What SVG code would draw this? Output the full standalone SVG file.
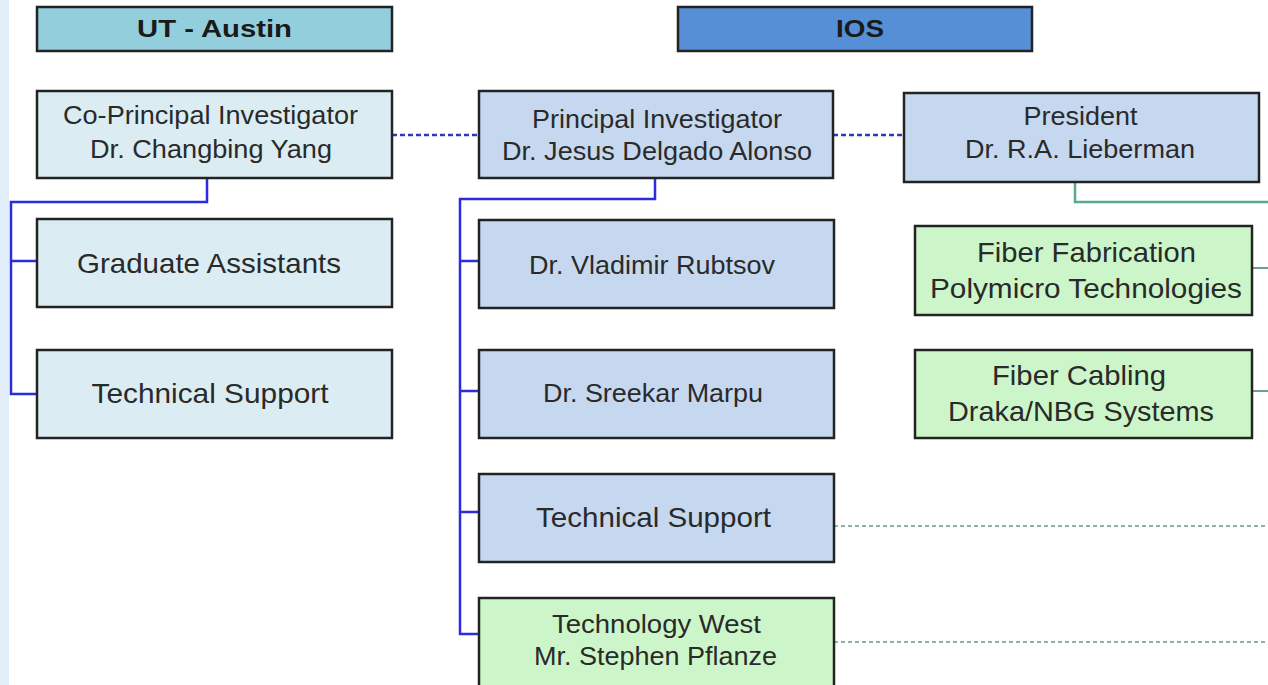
<svg xmlns="http://www.w3.org/2000/svg" width="1268" height="685" viewBox="0 0 1268 685">
<style>
.box{stroke:#232323;stroke-width:2.5}
.ut{fill:#dbedf3}
.ios{fill:#c6d8ef}
.grn{fill:#ccf6c9}
.t{font-family:"Liberation Sans",Arial,sans-serif;font-size:26px;fill:#2a2a2a;text-anchor:middle}
.s{font-size:28px}
.h{font-family:"Liberation Sans",Arial,sans-serif;font-size:24px;font-weight:bold;fill:#1a1a1a;text-anchor:middle}
.blue{fill:none;stroke:#2b2be0;stroke-width:2.5}
.bdash{fill:none;stroke:#3434b8;stroke-width:2.5;stroke-dasharray:5 3}
.green{fill:none;stroke:#5aaa8e;stroke-width:2.5}
.gside{fill:none;stroke:#6f9d8e;stroke-width:2}
.gdash{fill:none;stroke:#5f9c8a;stroke-width:1.6;stroke-dasharray:4 3}
</style>
<rect x="0" y="0" width="1268" height="685" fill="#ffffff"/>
<rect x="0" y="0" width="9" height="685" fill="#e3eefb"/>

<g id="connectors">
<path class="bdash" d="M392 135H480"/>
<path class="bdash" d="M833 135H904"/>
<path class="blue" d="M207 178V202H11V394H37M11 261H37"/>
<path class="blue" d="M655 178V199H460V634H480M460 261H480M460 391H480M460 512H480"/>
<path class="green" d="M1075 182V202H1268"/>
<path class="gside" d="M1252 268H1268"/>
<path class="gside" d="M1252 391H1268"/>
<path class="gdash" d="M834 526H1268"/>
<path class="gdash" d="M834 642H1268"/>
</g>

<g id="ut-austin">
<rect class="box" x="37" y="7" width="355" height="44" fill="#93cedc"/>
<text class="h" x="214.5" y="37" textLength="155" lengthAdjust="spacingAndGlyphs">UT - Austin</text>
</g>
<g id="ios">
<rect class="box" x="678" y="7" width="354" height="44" fill="#568fd5"/>
<text class="h" x="860" y="37" textLength="48" lengthAdjust="spacingAndGlyphs">IOS</text>
</g>

<g id="co-pi">
<rect class="box ut" x="37" y="91" width="355" height="87"/>
<text class="t" x="210.5" y="124" textLength="295" lengthAdjust="spacingAndGlyphs">Co-Principal Investigator</text>
<text class="t" x="211" y="158" textLength="242" lengthAdjust="spacingAndGlyphs">Dr. Changbing Yang</text>
</g>
<g id="grad-assistants">
<rect class="box ut" x="37" y="219" width="355" height="88"/>
<text class="t s" x="209" y="273" textLength="264" lengthAdjust="spacingAndGlyphs">Graduate Assistants</text>
</g>
<g id="tech-support-ut">
<rect class="box ut" x="37" y="350" width="355" height="88"/>
<text class="t s" x="210" y="403" textLength="237" lengthAdjust="spacingAndGlyphs">Technical Support</text>
</g>

<g id="pi">
<rect class="box ios" x="479" y="91" width="354" height="87"/>
<text class="t" x="657" y="128" textLength="250" lengthAdjust="spacingAndGlyphs">Principal Investigator</text>
<text class="t" x="657" y="160" textLength="310" lengthAdjust="spacingAndGlyphs">Dr. Jesus Delgado Alonso</text>
</g>
<g id="rubtsov">
<rect class="box ios" x="479" y="220" width="355" height="88"/>
<text class="t" x="652" y="274" textLength="246" lengthAdjust="spacingAndGlyphs">Dr. Vladimir Rubtsov</text>
</g>
<g id="marpu">
<rect class="box ios" x="479" y="350" width="355" height="88"/>
<text class="t" x="653" y="402" textLength="220" lengthAdjust="spacingAndGlyphs">Dr. Sreekar Marpu</text>
</g>
<g id="tech-support-ios">
<rect class="box ios" x="479" y="474" width="355" height="88"/>
<text class="t s" x="653.5" y="527" textLength="235" lengthAdjust="spacingAndGlyphs">Technical Support</text>
</g>
<g id="technology-west">
<rect class="box grn" x="479" y="598" width="355" height="95"/>
<text class="t" x="656.5" y="633" textLength="209" lengthAdjust="spacingAndGlyphs">Technology West</text>
<text class="t" x="655.5" y="665" textLength="243" lengthAdjust="spacingAndGlyphs">Mr. Stephen Pflanze</text>
</g>

<g id="president">
<rect class="box ios" x="904" y="93" width="355" height="89"/>
<text class="t" x="1080.5" y="125" textLength="114" lengthAdjust="spacingAndGlyphs">President</text>
<text class="t" x="1080" y="158" textLength="230" lengthAdjust="spacingAndGlyphs">Dr. R.A. Lieberman</text>
</g>
<g id="fiber-fabrication">
<rect class="box grn" x="915" y="226" width="337" height="89"/>
<text class="t s" x="1086.5" y="262" textLength="219" lengthAdjust="spacingAndGlyphs">Fiber Fabrication</text>
<text class="t s" x="1086" y="298" textLength="312" lengthAdjust="spacingAndGlyphs">Polymicro Technologies</text>
</g>
<g id="fiber-cabling">
<rect class="box grn" x="915" y="350" width="337" height="88"/>
<text class="t s" x="1079" y="385" textLength="174" lengthAdjust="spacingAndGlyphs">Fiber Cabling</text>
<text class="t s" x="1081" y="421" textLength="266" lengthAdjust="spacingAndGlyphs">Draka/NBG Systems</text>
</g>
</svg>
